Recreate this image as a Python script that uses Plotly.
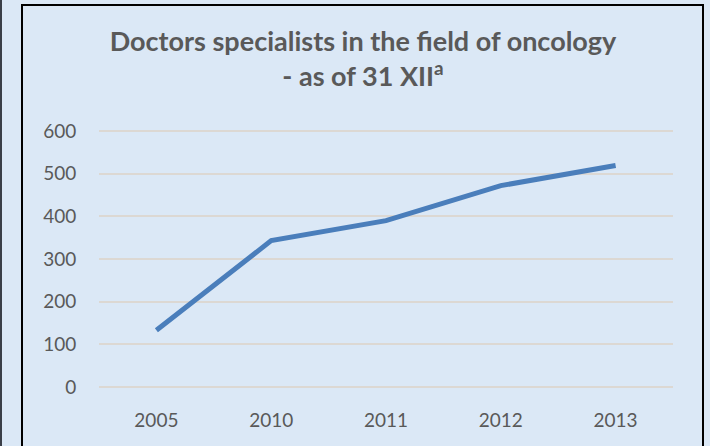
import plotly.graph_objects as go

years = ["2005", "2010", "2011", "2012", "2013"]
doctors = [133, 343, 390, 472, 519]
y_ticks = [0, 100, 200, 300, 400, 500, 600]

W, H = 710, 446
L, R, T, B = 99, 37, 128, 59
pw, ph = W - L - R, H - T - B
y_top = 600 * ph / 256.0  # keeps 600 gridline at the reference pixel row

def px_x(px):
    return (px - L) / pw

def px_y(py):
    return (H - B - py) / ph

fig = go.Figure()
fig.add_trace(go.Scatter(
    x=years, y=doctors, mode="lines",
    line=dict(color="#4a7ebb", width=5),
    hoverinfo="skip",
))

fig.update_layout(
    width=W, height=H,
    margin=dict(l=L, r=R, t=T, b=B),
    paper_bgcolor="#dbe8f6",
    plot_bgcolor="rgba(0,0,0,0)",
    showlegend=False,
    font=dict(family="Lato", color="#595959", size=19),
    title=dict(
        text="<b>Doctors specialists in the field of oncology<br>- as of 31 XII<sup>a</sup></b>",
        x=363 / W, xanchor="center", xref="container",
        y=1 - 51 / H, yanchor="top", yref="container",
        font=dict(family="Lato", size=27, color="#595959"),
    ),
    xaxis=dict(
        type="category", range=[-0.5, 4.5],
        showgrid=False, zeroline=False, showline=False,
        ticks="outside", ticklen=16, tickcolor="rgba(0,0,0,0)",
        tickfont=dict(size=19, color="#595959"),
    ),
    yaxis=dict(
        range=[0, y_top], tickvals=y_ticks,
        showgrid=True, gridcolor="#dcd8d3", gridwidth=1.5,
        zeroline=True, zerolinecolor="#dcd8d3", zerolinewidth=1.5,
        showline=False,
        ticks="outside", ticklen=18, tickcolor="rgba(0,0,0,0)",
        tickfont=dict(size=19, color="#595959"),
    ),
    shapes=[
        dict(type="rect", xref="paper", yref="paper",
             x0=px_x(22), x1=px_x(703), y0=px_y(460), y1=px_y(5),
             line=dict(color="#000000", width=2), fillcolor="rgba(0,0,0,0)",
             layer="above"),
        dict(type="line", xref="paper", yref="paper",
             x0=px_x(1), x1=px_x(1), y0=px_y(460), y1=px_y(-10),
             line=dict(color="#3a3f48", width=2), layer="above"),
    ],
)

fig.write_html(
    "out.html",
    config={"displayModeBar": False},
    post_script="document.body.style.margin='0';document.body.style.padding='0';",
)
